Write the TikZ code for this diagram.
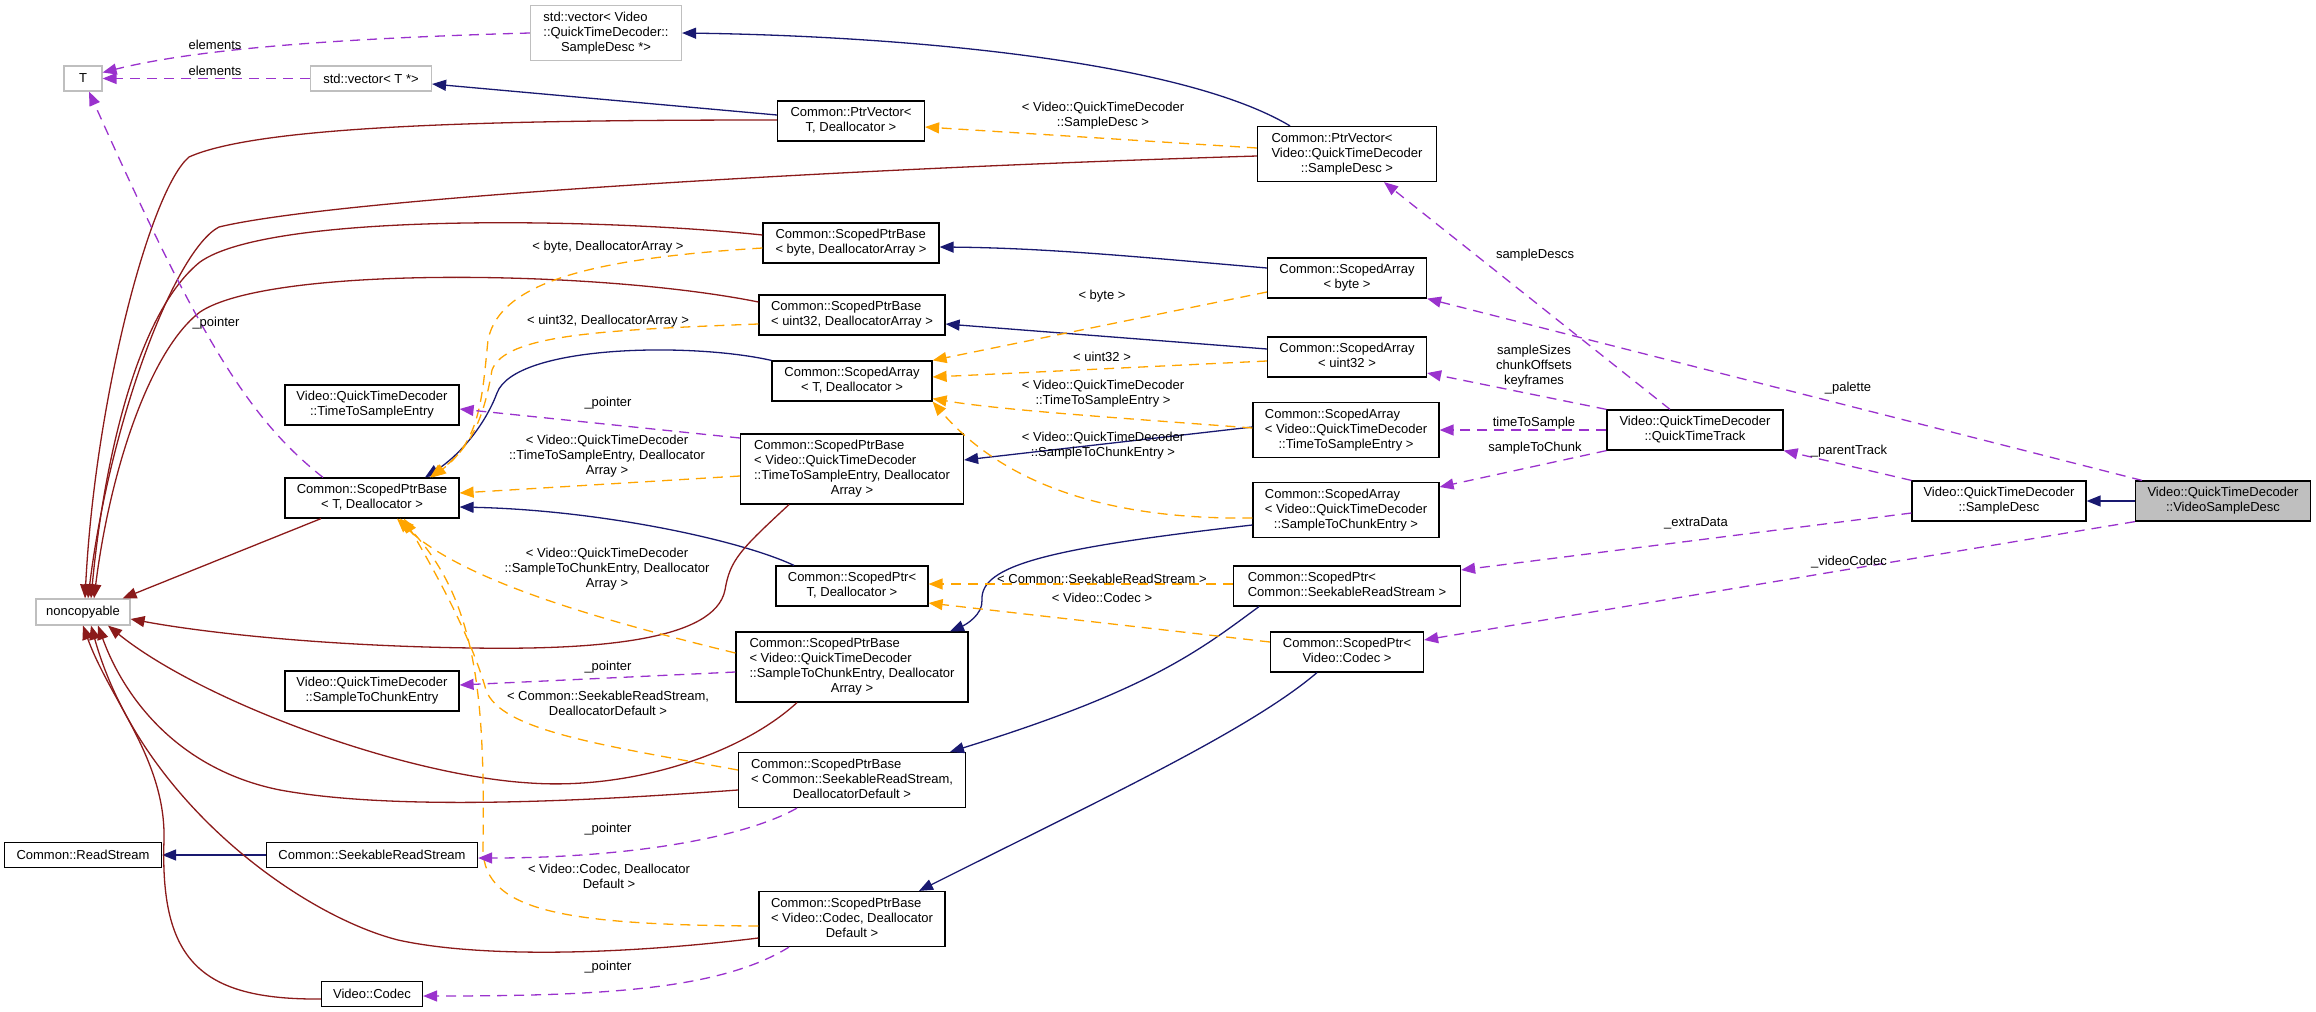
\documentclass[tikz,border=0pt]{standalone}
\usepackage{fontspec}
\setmainfont{Liberation Sans}
\usetikzlibrary{arrows.meta}
\definecolor{cblue}{HTML}{191970}
\definecolor{cred}{HTML}{8B1A1A}
\definecolor{corange}{HTML}{FFA500}
\definecolor{cpurple}{HTML}{9A32CD}
\definecolor{cgray}{HTML}{BFBFBF}
\newcommand\fnt{\fontsize{13}{15}\selectfont}
\newcommand\mlab[2]{\begin{tabular}{@{}l@{}}#1\\\multicolumn{1}{@{}c@{}}{#2}\end{tabular}}
\tikzset{
  box/.style={draw=black, line width=1.2pt, fill=white, font=\fnt, inner xsep=9pt, inner ysep=5pt, minimum height=25pt},
  gbox/.style={box, draw=cgray},
  lbl/.style={font=\fnt, align=center, inner sep=0pt},
  tip/.style={-{Triangle[length=14pt,width=11pt]}},
  inh/.style={tip, draw=cblue, line width=1.3pt},
  priv/.style={tip, draw=cred, line width=1.3pt},
  tmpl/.style={tip, draw=corange, line width=1.3pt, dash pattern=on 10pt off 7pt},
  use/.style={tip, draw=cpurple, line width=1.3pt, dash pattern=on 10pt off 7pt},
}
\begin{document}
\begin{tikzpicture}[x=1pt,y=-1pt]
\useasboundingbox (0,0) rectangle (2316,1012);
% nodes
\node[gbox, minimum width=38pt] (T) at (83,78.5) {T};
\node[gbox, minimum width=121pt] (vecT) at (371,78.5) {std::vector< T *>};
\node[gbox, minimum width=151pt] (vecSD) at (606,33) {\mlab{std::vector< Video\\::QuickTimeDecoder::}{SampleDesc *>}};
\node[box, minimum width=147pt] (PVT) at (851,121) {\mlab{Common::PtrVector<}{T, Deallocator >}};
\node[box, minimum width=179pt] (PVSD) at (1347,154) {\mlab{Common::PtrVector<\\Video::QuickTimeDecoder}{::SampleDesc >}};
\node[box, minimum width=176pt] (SPBbyte) at (851,243) {\mlab{Common::ScopedPtrBase}{< byte, DeallocatorArray >}};
\node[box, minimum width=159pt] (SAbyte) at (1347,278) {\mlab{Common::ScopedArray}{< byte >}};
\node[box, minimum width=186pt] (SPBu32) at (852,315) {\mlab{Common::ScopedPtrBase}{< uint32, DeallocatorArray >}};
\node[box, minimum width=159pt] (SAu32) at (1347,357) {\mlab{Common::ScopedArray}{< uint32 >}};
\node[box, minimum width=160pt] (SAT) at (852,381) {\mlab{Common::ScopedArray}{< T, Deallocator >}};
\node[box, minimum width=174pt] (TTS) at (372,405) {\mlab{Video::QuickTimeDecoder}{::TimeToSampleEntry}};
\node[box, minimum width=186pt] (SATTS) at (1346,430) {\mlab{Common::ScopedArray\\< Video::QuickTimeDecoder}{::TimeToSampleEntry >}};
\node[box, minimum width=223pt] (SPBTTS) at (852,469) {\mlab{Common::ScopedPtrBase\\< Video::QuickTimeDecoder\\::TimeToSampleEntry, Deallocator}{Array >}};
\node[box, minimum width=176pt] (QTT) at (1695,430) {\mlab{Video::QuickTimeDecoder}{::QuickTimeTrack}};
\node[box, minimum width=174pt] (SPBT) at (372,498) {\mlab{Common::ScopedPtrBase}{< T, Deallocator >}};
\node[box, minimum width=186pt] (SATSC) at (1346,510) {\mlab{Common::ScopedArray\\< Video::QuickTimeDecoder}{::SampleToChunkEntry >}};
\node[box, minimum width=174pt] (SD) at (1999,501) {\mlab{Video::QuickTimeDecoder}{::SampleDesc}};
\node[box, fill=cgray, minimum width=175pt] (VSD) at (2223,501) {\mlab{Video::QuickTimeDecoder}{::VideoSampleDesc}};
\node[gbox, minimum width=94pt, minimum height=26pt] (nc) at (83,612) {noncopyable};
\node[box, minimum width=152pt] (SPT) at (852,586) {\mlab{Common::ScopedPtr<}{T, Deallocator >}};
\node[box, minimum width=227pt] (SPSRS) at (1347,586) {\mlab{Common::ScopedPtr<}{Common::SeekableReadStream >}};
\node[box, minimum width=232pt] (SPBSTC) at (852,667) {\mlab{Common::ScopedPtrBase\\< Video::QuickTimeDecoder\\::SampleToChunkEntry, Deallocator}{Array >}};
\node[box, minimum width=153pt] (SPCodec) at (1347,652) {\mlab{Common::ScopedPtr<}{Video::Codec >}};
\node[box, minimum width=174pt] (STC) at (372,691) {\mlab{Video::QuickTimeDecoder}{::SampleToChunkEntry}};
\node[box, minimum width=227pt] (SPBSRS) at (852,780) {\mlab{Common::ScopedPtrBase\\< Common::SeekableReadStream,}{DeallocatorDefault >}};
\node[box, minimum width=157pt] (RS) at (83,855) {Common::ReadStream};
\node[box, minimum width=211pt] (SRS) at (372,855) {Common::SeekableReadStream};
\node[box, minimum width=186pt] (SPBCodec) at (852,919) {\mlab{Common::ScopedPtrBase\\< Video::Codec, Deallocator}{Default >}};
\node[box, minimum width=101pt] (Codec) at (372,994) {Video::Codec};

% blue inheritance
\draw[inh] (VSD.west) -- (SD.east);
\draw[inh] ([xshift=-57pt]PVSD.north) .. controls (1180,60) and (900,36) .. (vecSD.east);
\draw[inh] ([yshift=6pt]PVT.west) -- ([yshift=-5.5pt]vecT.east);
\draw[inh] ([yshift=10pt]SAbyte.west) .. controls (1150,258) and (1050,248) .. ([yshift=-4pt]SPBbyte.east);
\draw[inh] ([yshift=8pt]SAu32.west) -- ([yshift=-9pt]SPBu32.east);
\draw[inh] (SAT.north west) .. controls (690,342) and (515,345) .. (497,393) .. controls (485,425) and (460,455) .. ([xshift=53pt]SPBT.north);
\draw[inh] ([yshift=3pt]SATTS.west) -- ([yshift=9pt]SPBTTS.east);
\draw[inh] ([yshift=-15pt]SATSC.west) .. controls (1050,548) and (980,565) .. (982,600) .. controls (983,615) and (965,625) .. ([xshift=98pt]SPBSTC.north);
\draw[inh] ([xshift=-58pt]SPT.north) .. controls (740,540) and (600,510) .. ([yshift=-9pt]SPBT.east);
\draw[inh] ([xshift=-88pt]SPSRS.south) .. controls (1200,650) and (1150,690) .. ([xshift=98pt]SPBSRS.north);
\draw[inh] ([xshift=-30pt]SPCodec.south) .. controls (1250,730) and (1100,800) .. ([xshift=67pt]SPBCodec.north);
\draw[inh] (SRS.west) -- (RS.east);

% red private inheritance
\draw[priv] ([yshift=1pt]PVT.west) .. controls (500,120) and (260,125) .. (189,157) .. controls (150,190) and (95,400) .. ([xshift=2pt]nc.north);
\draw[priv] ([yshift=-2pt]PVSD.west) .. controls (800,170) and (330,200) .. (219,227) .. controls (175,250) and (110,420) .. ([xshift=5pt]nc.north);
\draw[priv] ([yshift=8pt]SPBbyte.west) .. controls (600,218) and (270,212) .. (200,262) .. controls (140,310) and (105,450) .. ([xshift=8pt]nc.north);
\draw[priv] ([yshift=13pt]SPBu32.west) .. controls (600,270) and (270,265) .. (200,312) .. controls (150,350) and (110,470) .. ([xshift=11pt]nc.north);
\draw[priv] ([xshift=-51pt]SPBT.south) -- ([xshift=-8pt]nc.north east);
\draw[priv] ([xshift=-63pt]SPBTTS.south) .. controls (740,550) and (730,560) .. (725,590) .. controls (715,640) and (600,650) .. (473,648) .. controls (320,646) and (200,632) .. ([yshift=-7pt]nc.east);
\draw[priv] ([xshift=-55pt]SPBSTC.south) .. controls (740,755) and (630,790) .. (530,783) .. controls (400,775) and (200,700) .. ([xshift=25pt]nc.south);
\draw[priv] ([yshift=-10pt]SPBSRS.west) .. controls (600,800) and (400,812) .. (280,790) .. controls (180,770) and (125,700) .. ([xshift=15pt]nc.south);
\draw[priv] ([yshift=-19pt]SPBCodec.west) .. controls (620,955) and (480,958) .. (398,940) .. controls (300,915) and (140,800) .. ([xshift=8pt]nc.south);
\draw[priv] ([yshift=-5pt]Codec.west) .. controls (200,1000) and (160,960) .. (164,840) .. controls (166,760) and (110,700) .. (nc.south);

% orange template instances
\draw[tmpl] ([yshift=6pt]PVSD.west) -- ([yshift=-6pt]PVT.east);
\draw[tmpl] ([yshift=-14pt]SAbyte.west) -- (SAT.north east);
\draw[tmpl] ([yshift=-4pt]SAu32.west) -- ([yshift=4pt]SAT.east);
\draw[tmpl] ([yshift=2pt]SATTS.west) .. controls (1120,418) and (1000,410) .. ([yshift=3pt]SAT.south east);
\draw[tmpl] ([yshift=-8pt]SATSC.west) .. controls (1100,520) and (1000,480) .. (SAT.south east);
\draw[tmpl] ([yshift=2pt]SPSRS.west) -- ([yshift=2pt]SPT.east);
\draw[tmpl] ([yshift=10pt]SPCodec.west) -- ([yshift=-17pt]SPT.east);
\draw[tmpl] ([yshift=-5pt]SPBbyte.west) .. controls (600,258) and (500,280) .. (488,340) .. controls (482,400) and (480,440) .. ([xshift=60pt]SPBT.north);
\draw[tmpl] ([yshift=-9pt]SPBu32.west) .. controls (600,330) and (505,335) .. (492,370) .. controls (485,410) and (475,445) .. ([xshift=58pt]SPBT.north);
\draw[tmpl] ([yshift=-7pt]SPBTTS.west) -- ([yshift=5pt]SPBT.east);
\draw[tmpl] ([yshift=14pt]SPBSTC.west) .. controls (600,620) and (460,580) .. ([xshift=25pt]SPBT.south);
\draw[tmpl] ([yshift=10pt]SPBSRS.west) .. controls (600,745) and (500,730) .. (486,690) .. controls (472,640) and (440,580) .. ([xshift=32pt]SPBT.south);
\draw[tmpl] ([yshift=-7pt]SPBCodec.west) .. controls (560,925) and (485,910) .. (483,850) .. controls (485,700) and (478,600) .. ([xshift=28pt]SPBT.south);

% purple usage
\draw[use] (vecSD.west) .. controls (350,38) and (200,48) .. ([yshift=6pt]T.east);
\draw[use] (vecT.west) -- (T.east);
\draw[use] ([xshift=-49pt]SPBT.north) .. controls (250,420) and (200,340) .. ([xshift=6pt]T.south);
\draw[use] ([yshift=31pt]SPBTTS.west) -- ([yshift=-4pt]TTS.east);
\draw[use] ([yshift=-5pt]SPBSTC.west) -- ([yshift=6pt]STC.east);
\draw[use] ([xshift=-55pt]SPBSRS.south) .. controls (740,840) and (620,858) .. ([yshift=-3pt]SRS.east);
\draw[use] ([xshift=-63pt]SPBCodec.south) .. controls (720,990) and (600,996) .. ([yshift=-2pt]Codec.east);
\draw[use] ([xshift=-25pt]QTT.north) -- ([xshift=37pt]PVSD.south);
\draw[use] (QTT.north west) -- ([yshift=-16pt]SAu32.east);
\draw[use] (QTT.west) -- (SATTS.east);
\draw[use] (QTT.south west) -- ([yshift=23pt]SATSC.east);
\draw[use] (SD.north west) -- (QTT.south east);
\draw[use] ([yshift=-12pt]SD.west) -- ([yshift=16pt]SPSRS.east);
\draw[use] ([xshift=7pt]VSD.north west) -- (SAbyte.south east);
\draw[use] (VSD.south west) -- ([yshift=12pt]SPCodec.east);

% labels
\node[lbl] (l1) at (215,45) {elements};
\node[lbl] (l2) at (215,71) {elements};
\node[lbl] (l3) at (216,323) {\_pointer};
\node[lbl] (l4) at (1103,116) {< Video::QuickTimeDecoder\\::SampleDesc >};
\node[lbl] (l5) at (608,247) {< byte, DeallocatorArray >};
\node[lbl] (l6) at (608,321) {< uint32, DeallocatorArray >};
\node[lbl] (l7) at (1102,296) {< byte >};
\node[lbl] (l8) at (1535,255) {sampleDescs};
\node[lbl] (l9) at (608,403) {\_pointer};
\node[lbl] (l10) at (607,456) {< Video::QuickTimeDecoder\\::TimeToSampleEntry, Deallocator\\Array >};
\node[lbl] (l11) at (607,569) {< Video::QuickTimeDecoder\\::SampleToChunkEntry, Deallocator\\Array >};
\node[lbl] (l12) at (608,667) {\_pointer};
\node[lbl] (l13) at (1102,357) {< uint32 >};
\node[lbl] (l14) at (1103,394) {< Video::QuickTimeDecoder\\::TimeToSampleEntry >};
\node[lbl] (l15) at (1103,446) {< Video::QuickTimeDecoder\\::SampleToChunkEntry >};
\node[lbl] (l16) at (1102,579) {< Common::SeekableReadStream >};
\node[lbl] (l17) at (1102,598) {< Video::Codec >};
\node[lbl] (l18) at (1534,366) {sampleSizes\\chunkOffsets\\keyframes};
\node[lbl] (l19) at (1848,388) {\_palette};
\node[lbl] (l20) at (1534,423) {timeToSample};
\node[lbl] (l21) at (1535,448) {sampleToChunk};
\node[lbl] (l22) at (1849,451) {\_parentTrack};
\node[lbl] (l23) at (1696,523) {\_extraData};
\node[lbl] (l24) at (1849,562) {\_videoCodec};
\node[lbl] (l25) at (608,703) {< Common::SeekableReadStream,\\DeallocatorDefault >};
\node[lbl] (l26) at (608,829) {\_pointer};
\node[lbl] (l27) at (609,876) {< Video::Codec, Deallocator\\Default >};
\node[lbl] (l28) at (608,967) {\_pointer};
\end{tikzpicture}
\end{document}
